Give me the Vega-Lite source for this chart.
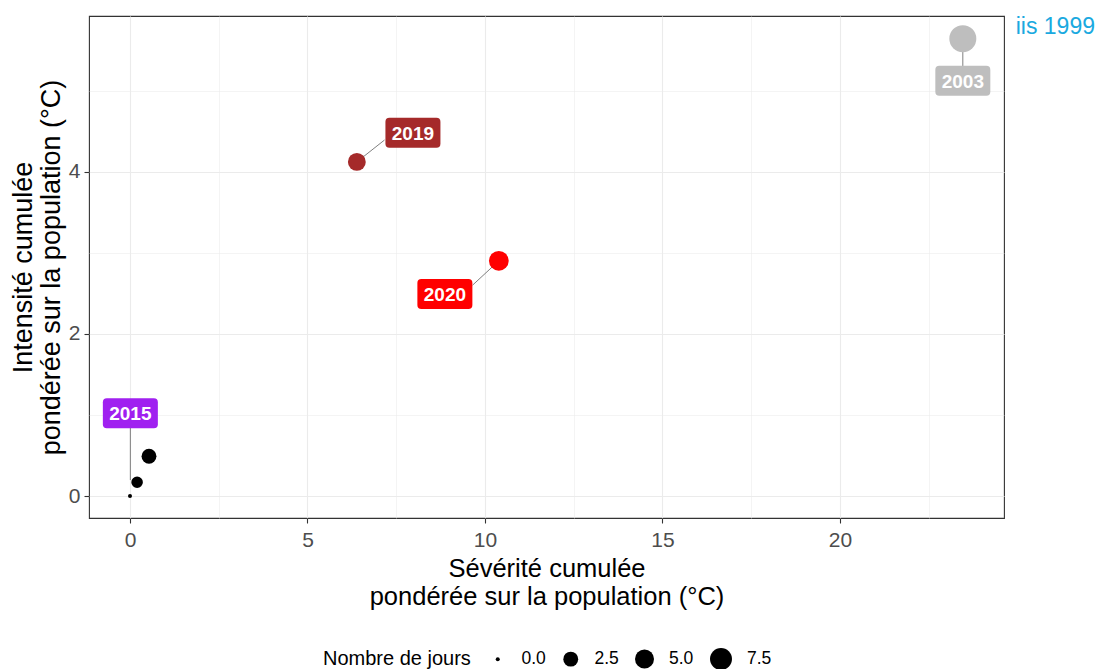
{
  "$schema": "https://vega.github.io/schema/vega-lite/v6.json",
  "width": 915,
  "height": 502,
  "autosize": {"type": "none"},
  "padding": {"left": 89, "top": 16, "right": 94, "bottom": 151},
  "background": "white",
  "title": {"text": "iis 1999", "anchor": "end", "frame": "group", "dx": 91, "dy": 27, "color": "#1AA9E0", "fontSize": 23, "font": "Liberation Sans", "fontWeight": "normal"},
  "config": {
    "view": {"stroke": "#333333", "strokeWidth": 1.1},
    "font": "Liberation Sans"
  },
  "datasets": {
    "vagues": [
      {"annee": "2003", "serie": "2003", "severite": 23.46, "intensite": 5.64, "jours": 13.2, "label_x": 23.46, "label_y": 5.12, "seg_x1": 23.46, "seg_y1": 5.64, "seg_x2": 23.46, "seg_y2": 5.30},
      {"annee": "2019", "serie": "2019", "severite": 6.39, "intensite": 4.12, "jours": 4.2, "label_x": 7.97, "label_y": 4.48, "seg_x1": 6.39, "seg_y1": 4.12, "seg_x2": 7.17, "seg_y2": 4.39},
      {"annee": "2020", "serie": "2020", "severite": 10.39, "intensite": 2.90, "jours": 5.6, "label_x": 8.87, "label_y": 2.49, "seg_x1": 10.39, "seg_y1": 2.90, "seg_x2": 9.65, "seg_y2": 2.60},
      {"annee": "2015", "serie": "autres", "severite": 0.0, "intensite": 0.0, "jours": 0, "label_x": 0.01, "label_y": 1.02, "seg_x1": 0.01, "seg_y1": 0.197, "seg_x2": 0.01, "seg_y2": 0.84},
      {"annee": null, "serie": "autres", "severite": 0.20, "intensite": 0.17, "jours": 1.2, "label_x": null, "label_y": null, "seg_x1": null, "seg_y1": null, "seg_x2": null, "seg_y2": null},
      {"annee": null, "serie": "autres", "severite": 0.535, "intensite": 0.49, "jours": 2.5, "label_x": null, "label_y": null, "seg_x1": null, "seg_y1": null, "seg_x2": null, "seg_y2": null}
    ]
  },
  "data": {"name": "vagues"},
  "layer": [
    {
      "transform": [{"filter": "datum.seg_x1 != null"}],
      "mark": {"type": "rule", "color": "#7F7F7F", "strokeWidth": 1},
      "encoding": {
        "x": {"field": "seg_x1", "type": "quantitative", "scale": {"domain": [-1.155, 24.62], "nice": false, "zero": false},
          "axis": {
            "values": [0, 2.5, 5, 7.5, 10, 12.5, 15, 17.5, 20, 22.5],
            "format": "~g",
            "labelExpr": "datum.value % 5 === 0 ? datum.label : ''",
            "tickOpacity": {"condition": {"test": "datum.value % 5 === 0", "value": 1}, "value": 0},
            "gridWidth": {"condition": {"test": "datum.value % 5 === 0", "value": 1.1}, "value": 0.55},
            "gridColor": "#EBEBEB",
            "domain": false,
            "tickColor": "#333333",
            "tickSize": 5,
            "tickWidth": 1.1,
            "labelFontSize": 21,
            "labelColor": "#4D4D4D",
            "labelPadding": 6,
            "title": ["Sévérité cumulée", "pondérée sur la population (°C)"],
            "titleFontSize": 25.5,
            "titleFontWeight": "normal",
            "titleColor": "black",
            "titleLineHeight": 28,
            "titlePadding": 6
          }},
        "y": {"field": "seg_y1", "type": "quantitative", "scale": {"domain": [-0.271, 5.919], "nice": false, "zero": false},
          "axis": {
            "values": [0, 1, 2, 3, 4, 5],
            "format": "~g",
            "labelExpr": "datum.value % 2 === 0 ? datum.label : ''",
            "tickOpacity": {"condition": {"test": "datum.value % 2 === 0", "value": 1}, "value": 0},
            "gridWidth": {"condition": {"test": "datum.value % 2 === 0", "value": 1.1}, "value": 0.55},
            "gridColor": "#EBEBEB",
            "domain": false,
            "tickColor": "#333333",
            "tickSize": 5,
            "tickWidth": 1.1,
            "labelFontSize": 21,
            "labelColor": "#4D4D4D",
            "labelPadding": 4,
            "title": ["Intensité cumulée", "pondérée sur la population (°C)"],
            "titleFontSize": 27,
            "titleFontWeight": "normal",
            "titleColor": "black",
            "titleLineHeight": 28,
            "titlePadding": 3
          }},
        "x2": {"field": "seg_x2"},
        "y2": {"field": "seg_y2"}
      }
    },
    {
      "mark": {"type": "point", "filled": true, "opacity": 1, "shape": "circle", "strokeWidth": 0},
      "encoding": {
        "x": {"field": "severite", "type": "quantitative"},
        "y": {"field": "intensite", "type": "quantitative"},
        "color": {"field": "serie", "type": "nominal", "legend": null,
          "scale": {"domain": ["2003", "2015", "2019", "2020", "autres"], "range": ["#BEBEBE", "#A020F0", "#A52A2A", "#FF0000", "#000000"]}},
        "size": {"field": "jours", "type": "quantitative",
          "scale": {"type": "pow", "exponent": 0.75, "domain": [0, 13.2], "range": [16, 729]},
          "legend": {
            "title": "Nombre de jours",
            "values": [0, 2.5, 5, 7.5],
            "format": ".1f",
            "orient": "none",
            "legendX": 234,
            "legendY": 632,
            "direction": "horizontal",
            "titleOrient": "left",
            "titleFontSize": 20,
            "titleFontWeight": "normal",
            "titleColor": "black",
            "titlePadding": 18,
            "labelFontSize": 17.5,
            "labelColor": "black",
            "labelOffset": 15,
            "columnPadding": 16,
            "symbolFillColor": "black",
            "symbolStrokeWidth": 0,
            "symbolType": "circle"
          }}
      }
    },
    {
      "transform": [{"filter": "datum.annee != null"}],
      "mark": {"type": "point", "filled": true, "opacity": 1, "strokeWidth": 0, "size": 3025,
        "shape": "M-0.855,-0.545L0.855,-0.545Q1,-0.545,1,-0.4L1,0.4Q1,0.545,0.855,0.545L-0.855,0.545Q-1,0.545,-1,0.4L-1,-0.4Q-1,-0.545,-0.855,-0.545Z"},
      "encoding": {
        "x": {"field": "label_x", "type": "quantitative"},
        "y": {"field": "label_y", "type": "quantitative"},
        "color": {"field": "annee", "type": "nominal", "legend": null,
          "scale": {"domain": ["2003", "2015", "2019", "2020", "autres"], "range": ["#BEBEBE", "#A020F0", "#A52A2A", "#FF0000", "#000000"]}}
      }
    },
    {
      "transform": [{"filter": "datum.annee != null"}],
      "mark": {"type": "text", "color": "white", "fontSize": 19, "fontWeight": "bold", "align": "center", "baseline": "middle", "dy": 1},
      "encoding": {
        "x": {"field": "label_x", "type": "quantitative"},
        "y": {"field": "label_y", "type": "quantitative"},
        "text": {"field": "annee", "type": "nominal"}
      }
    }
  ]
}
